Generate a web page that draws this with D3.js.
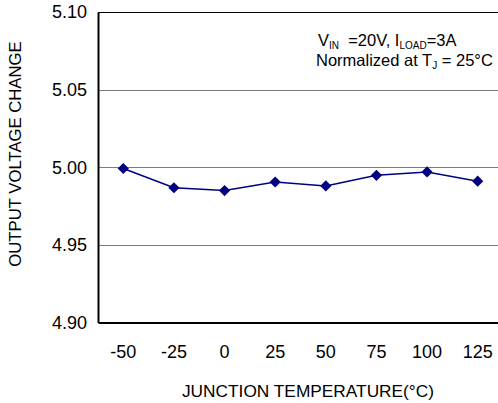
<!DOCTYPE html>
<html>
<head>
<meta http-equiv='Content-Type' content='text/html;charset=utf-8'/>
<title>Output voltage change vs junction temperature</title>
<script src='https://d3js.org/d3.v7.min.js'></script>
<style>
body {
	margin: 0;
	background: #ffffff;
	font-family: 'Liberation Sans', Arial, sans-serif;
}
svg { display: block; }
</style>
</head>
<body>
<script>
'use strict'

// chart data
const temps = ['-50', '-25', '0', '25', '50', '75', '100', '125']
const vout = [4.9992, 4.9868, 4.9850, 4.9905, 4.9880, 4.9948, 4.9970, 4.9910]
const yTicks = [4.90, 4.95, 5.00, 5.05, 5.10]

const width = 498
const height = 403
const margin = {top: 12, right: -5, bottom: 80.5, left: 98}

const svg = d3.select('body').append('svg')
	.attr('width', width)
	.attr('height', height)

const x = d3.scaleBand()
	.domain(temps)
	.range([margin.left, width - margin.right])
	.padding(0)

const y = d3.scaleLinear()
	.domain([4.90, 5.10])
	.range([height - margin.bottom, margin.top])

// grid lines
svg.append('g')
	.selectAll('line')
	.data(yTicks.filter(d => d > 4.90 && d < 5.10))
	.join('line')
	.attr('x1', margin.left)
	.attr('x2', width - margin.right)
	.attr('y1', d => Math.round(y(d)) + 0.5)
	.attr('y2', d => Math.round(y(d)) + 0.5)
	.attr('stroke', '#7a7a7a')
	.attr('stroke-width', 1)

// top border
svg.append('line')
	.attr('x1', margin.left)
	.attr('x2', width - margin.right)
	.attr('y1', Math.round(y(5.10)) + 0.5)
	.attr('y2', Math.round(y(5.10)) + 0.5)
	.attr('stroke', '#000')
	.attr('stroke-width', 1)

// y axis
const yAxis = d3.axisLeft(y)
	.tickValues(yTicks)
	.tickFormat(d3.format('.2f'))
	.tickSize(0)
	.tickPadding(11)

const gy = svg.append('g')
	.attr('transform', 'translate(' + margin.left + ',0)')
	.call(yAxis)
gy.select('.domain').attr('stroke', '#000').attr('stroke-width', 2)
gy.selectAll('text')
	.attr('font-family', "'Liberation Sans', Arial, sans-serif")
	.attr('font-size', 18)
	.attr('fill', '#000')

// x axis
const xAxis = d3.axisBottom(x)
	.tickSize(0)
	.tickPadding(23)

const gx = svg.append('g')
	.attr('transform', 'translate(0,' + y(4.90) + ')')
	.call(xAxis)
gx.select('.domain').attr('stroke', '#000').attr('stroke-width', 2)
gx.selectAll('text')
	.attr('font-family', "'Liberation Sans', Arial, sans-serif")
	.attr('font-size', 18)
	.attr('fill', '#000')

// series
const line = d3.line()
	.x((d, i) => x(temps[i]) + x.bandwidth() / 2)
	.y(d => y(d))

svg.append('path')
	.datum(vout)
	.attr('d', line)
	.attr('fill', 'none')
	.attr('stroke', '#000080')
	.attr('stroke-width', 1.5)

svg.append('g')
	.selectAll('path')
	.data(vout)
	.join('path')
	.attr('d', d3.symbol().type(d3.symbolDiamond2).size(80))
	.attr('transform', (d, i) => 'translate(' + (x(temps[i]) + x.bandwidth() / 2) + ',' + y(d) + ')')
	.attr('fill', '#000080')

// axis titles
svg.append('text')
	.attr('x', 308)
	.attr('y', 397)
	.attr('text-anchor', 'middle')
	.attr('font-size', 17.3)
	.text('JUNCTION TEMPERATURE(°C)')

svg.append('text')
	.attr('transform', 'translate(21,154) rotate(-90)')
	.attr('text-anchor', 'middle')
	.attr('font-size', 16.7)
	.text('OUTPUT VOLTAGE CHANGE')

// conditions note
const note1 = svg.append('text')
	.attr('x', 318)
	.attr('y', 46)
	.attr('font-size', 16.5)
	.attr('xml:space', 'preserve')
note1.append('tspan').text('V')
note1.append('tspan').attr('font-size', 10).attr('dy', 3).text('IN')
note1.append('tspan').attr('dy', -3).text('  =20V, I')
note1.append('tspan').attr('font-size', 10).attr('dy', 3).text('LOAD')
note1.append('tspan').attr('dy', -3).text('=3A')

const note2 = svg.append('text')
	.attr('x', 316)
	.attr('y', 66)
	.attr('font-size', 16.5)
note2.append('tspan').text('Normalized at T')
note2.append('tspan').attr('font-size', 10).attr('dy', 3).text('J')
note2.append('tspan').attr('dy', -3).text(' = 25°C')
</script>
</body>
</html>
